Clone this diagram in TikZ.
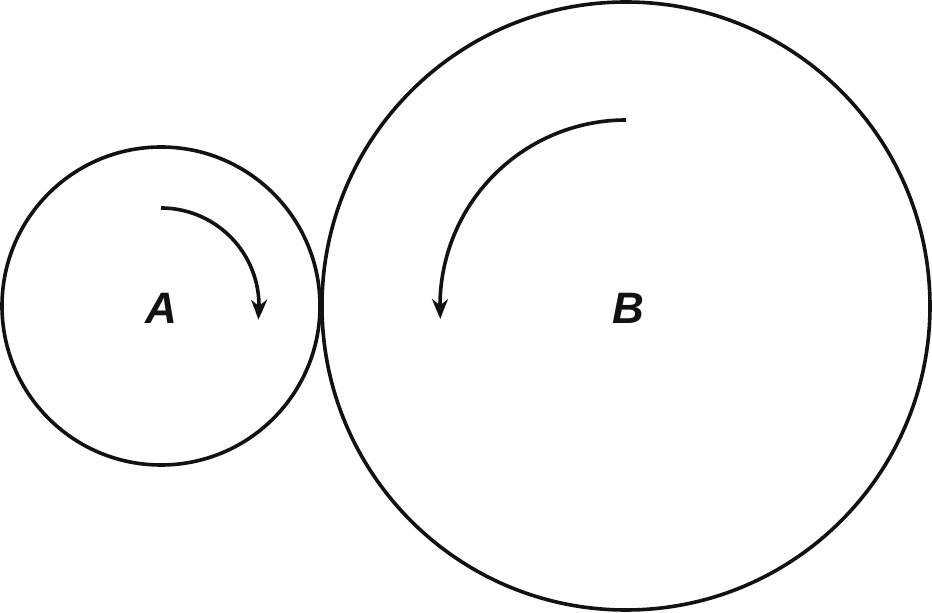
\documentclass[tikz,border=0pt]{standalone}
\usepackage{fontspec}
\setmainfont{Liberation Sans}
\usetikzlibrary{arrows.meta,bending}
\begin{document}
\begin{tikzpicture}[x=1pt,y=1pt,
  gear/.style={draw=black!93, line width=3.6pt},
  rot/.style={draw=black!93, line width=3.6pt, -{Stealth[length=20pt,width=16pt,bend]}},
  lbl/.style={font=\fontsize{44}{44}\selectfont\bfseries\itshape, text=black!93, inner sep=0pt}]
\useasboundingbox (0,0) rectangle (932,613);
\node[gear, circle, minimum size=318pt, inner sep=0pt] (A) at (161,307) {};
\node[gear, circle, minimum size=608pt, inner sep=0pt] (B) at (626,307) {};
\node[lbl] (la) at (161,305) {A};
\node[lbl] (lb) at (628,305) {B};
\coordinate (sa) at (161,405);
\coordinate (sb) at (626,493);
\draw[rot] (sa) arc[start angle=90, end angle=-8, radius=98];
\draw[rot] (sb) arc[start angle=90, end angle=184, radius=186];
\end{tikzpicture}
\end{document}
